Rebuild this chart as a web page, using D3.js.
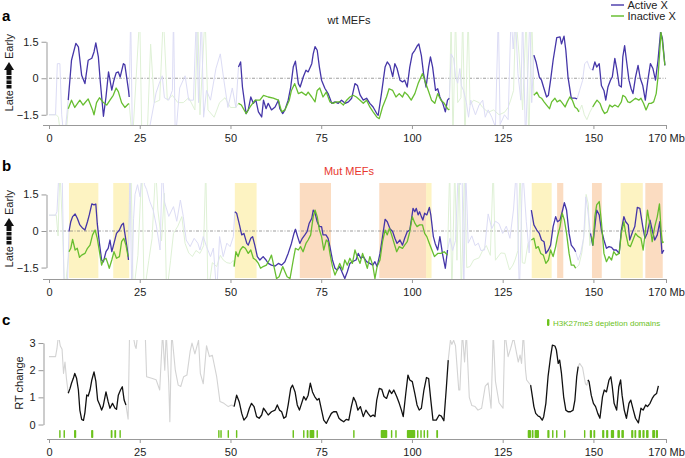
<!DOCTYPE html>
<html><head><meta charset="utf-8">
<script src="https://cdn.jsdelivr.net/npm/d3@7"></script>
<style>body{margin:0;background:#fff}svg{display:block;font-family:"Liberation Sans",Arial,Helvetica,sans-serif}</style>
</head><body>
<script>
// ---------------- DATA ----------------
const xTicks = [0,25,50,75,100,125,150,170];
const rtYTicks = [-1.5,0,1.5];
const changeYTicks = [0,1,2,3];
const seriesNames = ["Active X","Inactive X"];

// panel a (wt MEFs) – solid segments
const wtActive = [
 [[5.3,-0.9],[6.2,0.74],[7.4,1.43],[8.1,1.29],[9.0,0.12],[9.9,-0.22],[10.8,0.74],[11.8,0.82],[12.4,1.08],[12.9,1.45],[13.6,0.88],[14.1,-0.08],[15.0,-1.56],[15.7,-0.77],[16.4,0.26],[17.3,-0.49],[17.9,-0.08],[18.5,0.22],[19.1,0.26],[19.6,0.05],[20.5,0.6],[20.9,0.55],[21.9,-0.49],[22.1,-0.77]],
 [[52.2,0.46],[52.8,0.67],[53.3,-0.36],[54.3,-1.45],[54.9,-1.3],[55.6,-0.77],[56.3,-1.03],[57.0,-0.9],[57.7,-1.38],[58.6,-1.59],[59.1,-0.9],[59.8,-1.25],[60.4,-1.03],[61.3,-1.3],[62.3,-1.18],[63.2,-0.9],[63.6,-1.25],[64.4,-1.45],[65.0,-1.3],[65.9,-0.9],[66.6,-0.36],[67.3,0.46],[67.9,0.7],[68.7,-0.22],[69.2,-0.36],[70.1,0.07],[70.8,0.33],[71.4,0.26],[72.4,0.6],[72.8,1.0],[73.3,1.3],[73.9,1.15],[74.5,0.46],[75.1,-0.08],[76.0,-0.41],[76.9,-0.63],[77.9,-1.03],[78.8,-0.97],[79.7,-1.03],[80.6,-0.9],[81.6,-1.03],[82.5,-0.97],[83.4,-0.82],[84.3,-0.22],[85.0,-0.3],[85.7,-0.68],[86.6,-0.9],[87.5,-0.82],[88.4,-1.03],[89.3,-1.18],[90.3,-1.45],[90.7,-1.52],[91.6,-0.63],[92.6,0.46],[93.2,0.67],[93.9,0.53],[94.7,0.07],[95.3,0.6],[95.9,0.4],[96.7,-0.08],[97.4,-0.15],[98.0,-0.08],[98.7,-0.36],[99.4,0.46],[100.1,1.0],[100.8,1.15],[101.5,1.34],[101.9,1.41],[102.6,0.93],[103.2,0.19],[103.9,-0.36],[104.6,0.46],[105.1,0.88],[105.7,0.46],[106.5,-0.5],[107.1,-0.43],[107.7,-0.77],[108.5,-1.03],[109.2,-1.38],[109.8,-0.9],[110.3,-0.82]],
 [[133.6,0.95],[134.2,0.67],[135.1,0.05],[135.7,-0.08],[136.4,-0.43],[137.1,-0.77],[137.6,-0.7],[138.2,-0.08],[138.9,0.74],[139.9,1.67],[140.8,1.7],[141.2,1.41],[141.9,1.73],[142.4,1.15],[143.0,0.05],[143.9,-0.82],[144.9,-0.82],[145.5,-0.85]],
 [[149.8,0.33],[150.4,0.67],[150.9,0.46],[151.6,0.6],[152.2,-0.3],[152.9,-0.5],[153.4,-0.9],[154.0,-0.36],[154.7,-0.08],[155.2,0.05],[155.9,0.82],[156.5,0.33],[157.1,-0.3],[157.7,-0.36],[158.1,0.88],[158.6,1.34],[159.1,0.74],[159.8,-0.08],[160.4,-0.43],[160.9,-0.63],[161.6,0.05],[162.3,0.53],[162.9,0.0],[163.6,-0.3],[164.3,-0.9],[165.0,-0.08],[165.7,0.6],[166.4,0.4],[167.1,-0.08],[167.8,0.74],[168.5,1.9],[169.0,1.65],[169.7,0.53]]
];
const wtInactive = [
 [[5.3,-1.25],[6.2,-0.9],[7.1,-1.2],[8.5,-0.9],[9.4,-1.1],[10.8,-0.85],[12.0,-1.3],[12.4,-1.5],[13.1,-1.0],[13.9,-0.8],[15.0,-1.0],[15.9,-1.1],[16.8,-0.9],[17.7,-0.7],[18.5,-0.4],[19.1,-0.55],[20.0,-1.0],[20.9,-1.2],[21.9,-1.05],[22.1,-1.05]],
 [[52.2,-1.03],[53.0,-1.1],[54.3,-1.45],[55.4,-1.18],[56.8,-0.9],[58.1,-0.9],[59.1,-0.7],[60.4,-0.77],[61.8,-0.82],[63.2,-0.9],[64.1,-1.38],[65.0,-1.3],[66.2,-0.9],[66.8,-0.5],[67.7,-0.22],[68.7,-0.63],[69.6,-0.57],[70.8,-0.7],[71.4,-0.57],[72.4,-0.77],[73.3,-0.97],[73.9,-0.5],[74.6,-0.4],[75.5,-0.77],[76.4,-0.57],[77.4,-0.97],[78.3,-1.03],[79.2,-0.97],[80.1,-0.97],[81.1,-1.1],[82.0,-0.9],[82.9,-0.77],[83.8,-0.7],[84.7,-0.77],[85.7,-0.9],[86.6,-1.03],[87.5,-0.9],[88.4,-1.18],[89.3,-1.38],[90.3,-1.59],[91.0,-1.66],[91.9,-1.18],[93.0,-0.77],[93.7,-0.43],[94.7,-0.5],[95.6,-0.77],[96.5,-0.63],[97.4,-0.77],[98.0,-0.57],[98.9,-0.7],[99.8,-0.9],[100.8,-0.63],[101.7,-0.22],[102.9,0.19],[103.5,-0.08],[104.5,-0.5],[105.4,-0.9],[106.3,-1.03],[107.1,-0.63],[108.0,-0.9],[108.9,-1.03],[109.8,-1.25],[110.3,-1.3]],
 [[133.6,-0.7],[134.4,-0.57],[135.1,-0.77],[135.7,-0.82],[136.4,-0.97],[137.1,-1.1],[137.9,-1.25],[138.5,-0.97],[139.4,-0.82],[140.0,-0.97],[140.8,-0.9],[141.5,-1.03],[142.2,-1.18],[142.8,-0.97],[143.5,-0.77],[144.2,-0.9],[144.9,-1.18],[145.5,-1.25],[146.0,-1.38]],
 [[149.8,-1.18],[150.4,-1.03],[151.0,-0.9],[151.8,-1.03],[152.5,-1.3],[153.1,-1.45],[153.8,-1.38],[154.5,-1.1],[155.2,-1.18],[155.9,-1.1],[156.8,-1.18],[157.7,-0.97],[158.1,-0.7],[158.8,-0.77],[159.5,-0.97],[160.1,-1.0],[160.9,-0.9],[161.6,-0.82],[162.5,-0.9],[163.1,-0.82],[163.8,-1.03],[164.5,-1.3],[165.3,-1.03],[165.9,-1.03],[166.6,-0.97],[167.3,-0.63],[167.8,0.05],[168.3,1.15],[168.6,1.9],[169.0,1.51],[169.7,0.53]]
];
// panel a – unreliable (faded) stretches
const wtActiveBg = [
 [[0,-1.5],[1.8,-1.5],[2.3,0.6],[3.0,0.6],[3.5,-1.5],[4.2,-2.6],[5.3,-0.9]],
 [[22.1,-0.77],[22.5,2.6],[23.0,-2.6],[26.5,-2.6],[27.5,-2.2],[29.5,-0.6],[30.4,-0.2],[31.2,0.1],[31.8,-0.8],[33.0,-0.9],[34.0,-0.5],[34.3,2.6],[34.8,-2.6],[36.0,-0.4],[37.5,0.1],[38.5,-0.9],[39.8,-0.9],[40.6,2.6],[41.2,-1.0],[42.0,2.6],[42.6,-1.6],[43.4,-0.5],[44.5,-0.9],[46.0,0.4],[47.2,1.0],[48.2,-0.1],[49.3,-1.2],[50.5,-0.4],[51.5,-1.2],[52.2,0.46]],
 [[110.3,-0.82],[110.8,1.0],[111.5,0.8],[112.0,0.1],[112.6,-0.2],[113.2,0.4],[113.6,-0.3],[114.2,-0.5],[115.0,-1.0],[115.6,-1.6],[116.2,-0.9],[116.8,-1.2],[117.5,-1.5],[118.5,-1.1],[119.5,-0.9],[120.2,-1.6],[121.0,-1.3],[122.0,-1.6],[123.0,-2.0],[123.8,2.6],[124.3,-1.9],[125.5,-1.5],[126.5,-1.7],[127.3,2.6],[127.9,1.2],[128.5,2.6],[129.2,0.2],[130.0,-0.9],[130.5,2.6],[131.3,-2.6],[132.5,2.6],[133.0,-1.0],[133.6,0.95]],
 [[145.5,-0.85],[146.2,-0.5],[147.0,-0.1],[147.6,0.6],[148.3,0.7],[149.0,0.4],[149.8,0.33]]
];
const wtInactiveBg = [
 [[0,-1.5],[2.0,-1.5],[2.6,-1.6],[3.4,-2.6],[4.5,-2.6],[5.3,-1.25]],
 [[22.1,-1.05],[23.0,-2.6],[25.0,2.6],[25.6,-2.6],[27.0,-2.6],[28.0,1.4],[29.0,-1.0],[30.5,-0.9],[31.5,2.6],[32.6,-0.9],[34.0,-0.7],[35.5,-1.0],[37.0,-1.0],[38.5,-0.8],[40.2,-1.3],[41.0,2.6],[41.6,-1.5],[43.0,2.6],[43.8,-1.3],[45.5,-1.6],[47.0,-1.0],[48.5,-0.8],[50.0,-1.2],[51.5,-1.2],[52.2,-1.03]],
 [[110.3,-1.3],[110.8,2.6],[111.3,-2.6],[112.0,2.6],[112.6,-1.0],[113.5,-0.8],[114.0,2.6],[114.6,-2.6],[115.5,2.6],[116.0,-1.1],[117.0,-0.9],[118.5,-1.0],[119.5,-1.2],[121.0,-1.4],[122.5,-1.3],[124.0,-1.5],[125.5,-1.4],[126.5,-1.2],[127.2,-0.9],[128.0,-0.5],[128.6,2.6],[129.5,1.0],[130.5,-1.3],[131.5,2.6],[132.2,-2.6],[133.0,2.6],[133.6,-0.7]],
 [[146.0,-1.38],[146.8,-1.1],[147.5,-1.5],[148.2,-1.7],[149.0,-1.4],[149.8,-1.18]]
];

// panel b (Mut MEFs)
const mutActive = [
 [[5.5,-0.03],[6.0,0.38],[6.5,0.59],[7.2,0.7],[7.8,0.52],[8.5,0.25],[9.3,0.11],[9.9,0.04],[10.6,0.38],[11.1,0.66],[11.8,1.11],[12.4,1.07],[12.9,1.11],[13.3,0.3],[13.9,-0.51],[14.5,-1.19],[15.0,-1.26],[15.7,-0.85],[16.3,-0.71],[16.8,-0.37],[17.3,-0.85],[17.9,-0.51],[18.6,-0.1],[19.4,0.04],[20.0,0.25],[20.5,0.32],[20.9,-0.1],[21.6,-0.78],[21.9,-1.19]],
 [[51.2,0.79],[51.7,0.73],[52.4,0.3],[53.1,-0.16],[53.7,-0.1],[54.5,-0.51],[54.9,-0.58],[55.6,-0.3],[56.1,-0.23],[56.7,-0.58],[57.4,-1.05],[58.1,-1.19],[59.0,-1.05],[59.8,-1.19],[60.4,-1.33],[61.3,-1.4],[62.3,-1.44],[63.2,-1.33],[64.1,-1.4],[65.0,-1.26],[65.9,-0.92],[66.8,-0.51],[67.5,-0.1],[67.9,0.07],[68.5,-0.23],[69.1,-0.51],[69.8,-0.3],[70.5,-0.16],[71.1,-0.03],[71.7,0.32],[72.4,0.52],[72.8,0.86],[73.3,0.73],[73.9,0.38],[74.5,0.18],[75.1,0.18],[75.5,-0.16],[76.3,-0.16],[76.9,-0.3],[77.4,-0.64],[78.1,-1.19],[78.8,-1.53],[79.4,-1.6],[80.1,-1.46],[80.9,-1.74],[81.5,-1.95],[82.2,-1.67],[82.9,-1.33],[83.6,-1.26],[84.6,-1.19],[85.2,-0.92],[85.9,-1.12],[86.6,-1.05],[87.5,-1.26],[88.4,-1.33],[89.2,-1.4],[89.8,-1.26],[90.4,-1.46],[91.2,-0.92],[91.9,-0.23],[92.6,0.48],[93.2,0.38],[93.9,0.11],[94.7,-0.03],[95.3,-0.3],[95.9,-0.51],[96.7,-0.37],[97.4,-0.58],[98.0,-0.3],[98.7,-0.03],[99.4,0.04],[99.9,0.52],[100.3,0.93],[100.8,0.79],[101.2,0.93],[101.7,0.66],[102.1,0.79],[102.6,0.59],[103.0,0.45],[103.5,0.73],[104.1,0.66],[104.8,0.97],[105.2,0.66],[105.9,-0.23],[106.4,-0.51],[107.1,-0.78],[107.7,-0.23],[108.4,-0.92],[109.2,-1.53],[109.8,-0.78]],
 [[132.9,0.86],[133.6,0.25],[134.4,0.04],[135.1,-0.1],[135.7,-0.37],[136.4,-0.44],[136.9,-0.92],[137.6,-0.78],[138.2,-0.58],[138.9,0.18],[139.6,0.59],[140.1,0.38],[140.8,0.45],[141.4,0.79],[142.0,1.16],[142.6,0.86],[143.3,-0.1],[143.9,-0.58],[144.6,-0.71],[145.1,-0.85]],
 [[149.2,-0.1],[149.8,-0.58],[150.4,0.18],[150.9,0.86],[151.6,0.66],[152.2,0.04],[152.9,-0.37],[153.6,-0.71],[154.3,-0.64],[155.0,-0.67],[155.6,-0.78],[156.3,-0.78],[157.1,-0.92],[157.7,0.04],[158.4,0.59],[158.9,0.38],[159.6,0.25],[160.0,-0.37],[160.8,-0.03],[161.4,0.18],[162.1,0.97],[162.8,0.93],[163.6,0.18],[164.2,-0.3],[164.8,-0.1],[165.6,0.45],[166.3,-0.03],[166.9,-0.37],[167.6,-0.16],[168.3,0.38],[168.9,-0.92],[169.4,-0.78]]
];
const mutInactive = [
 [[5.5,-0.85],[6.0,-0.71],[6.5,-0.34],[7.2,-0.78],[7.8,-0.71],[8.4,-1.08],[9.0,-0.99],[9.9,-0.92],[10.6,-0.71],[11.3,-0.58],[12.0,-0.16],[12.7,0.04],[13.3,-0.3],[13.9,-0.85],[14.5,-1.4],[15.0,-1.19],[15.7,-1.12],[16.2,-1.33],[16.6,-1.53],[17.3,-1.19],[17.9,-0.85],[18.6,-1.12],[19.4,-1.05],[20.0,-0.44],[20.6,-0.3],[21.2,-0.58],[21.8,-1.05]],
 [[51.0,-1.46],[51.5,-0.85],[52.1,-1.05],[52.7,-0.78],[53.4,-0.64],[54.1,-0.71],[54.9,-0.92],[55.6,-0.78],[56.3,-1.12],[57.0,-1.19],[57.7,-1.33],[58.3,-1.53],[59.0,-1.46],[59.9,-1.4],[60.7,-1.19],[61.3,-0.99],[61.9,-1.4],[62.7,-1.95],[63.4,-1.88],[64.4,-1.46],[65.0,-1.67],[65.6,-1.88],[66.4,-1.95],[67.3,-1.19],[67.9,-0.71],[68.7,-0.78],[69.3,-0.64],[70.0,-0.85],[70.8,-0.51],[71.4,-0.37],[72.1,-0.16],[72.8,0.59],[73.3,0.86],[73.9,0.59],[74.5,0.04],[75.1,-0.23],[75.7,-0.78],[76.4,-0.37],[76.9,-0.44],[77.4,-0.92],[78.1,-1.46],[78.8,-1.81],[79.4,-1.6],[80.1,-1.33],[80.9,-1.6],[81.5,-1.19],[82.2,-1.4],[82.9,-1.12],[83.6,-1.33],[84.3,-0.78],[84.9,-1.05],[85.7,-1.33],[86.4,-0.92],[87.0,-1.19],[87.7,-1.53],[88.4,-1.05],[89.2,-1.4],[89.8,-1.95],[90.4,-1.46],[91.2,-1.19],[91.9,-0.44],[92.6,0.04],[93.2,-0.16],[93.8,0.11],[94.4,-0.16],[95.1,-0.51],[95.8,-0.85],[96.5,-0.64],[97.4,-0.71],[98.0,-0.58],[98.7,-0.44],[99.4,-0.03],[100.1,0.59],[100.8,0.32],[101.4,0.18],[102.1,0.25],[102.9,0.25],[103.5,-0.1],[104.1,-0.23],[104.8,-0.51],[105.5,-0.78],[106.2,-1.05],[107.1,-0.92],[108.0,-0.92],[108.9,-0.85],[109.8,-0.99]],
 [[132.9,-0.37],[133.6,-0.3],[134.2,-0.71],[134.8,-0.64],[135.5,-0.92],[136.2,-0.99],[136.9,-1.33],[137.6,-1.19],[138.2,-0.78],[138.9,-1.05],[139.6,-0.64],[140.1,-0.23],[140.8,0.18],[141.4,0.73],[142.0,0.45],[142.6,-0.1],[143.3,-0.92],[143.9,-1.4],[144.6,-1.4],[145.1,-1.53]],
 [[149.5,-0.23],[149.9,-0.58],[150.4,0.59],[150.9,1.07],[151.6,1.21],[152.2,0.38],[152.9,-0.92],[153.6,-1.26],[154.3,-1.05],[155.0,-1.19],[155.6,-0.85],[156.3,-0.99],[157.1,-0.92],[157.7,-0.1],[158.4,0.38],[158.9,-0.1],[159.6,-0.58],[160.2,-0.64],[160.9,-0.37],[161.6,-0.1],[162.2,-0.21],[163.1,-0.3],[163.7,-0.78],[164.2,-0.16],[164.9,0.86],[165.5,0.32],[166.2,-0.44],[166.9,0.18],[167.6,0.59],[168.2,1.11],[168.7,-0.1],[169.0,-0.48],[169.4,-0.44]]
];
const mutActiveBg = [
 [[0,0.65],[1.8,0.65],[2.2,0.8],[2.8,2.6],[3.6,2.6],[4.2,-2.6],[5.0,-2.6],[5.5,-0.03]],
 [[21.9,-1.19],[22.3,2.6],[22.8,-2.6],[23.3,0.5],[23.7,1.5],[24.4,1.9],[25.1,1.4],[25.8,2.6],[26.3,1.9],[26.9,1.7],[27.8,1.2],[28.7,0.86],[29.6,0.2],[30.6,-0.78],[31.2,2.6],[31.8,1.2],[33.0,0.6],[34.3,1.0],[35.2,0.4],[36.2,1.27],[37.0,0.6],[37.8,-0.37],[38.9,-0.64],[40.0,-0.3],[41.0,-0.5],[41.6,-0.78],[42.5,-0.23],[43.4,-0.64],[44.5,-1.05],[45.3,-0.7],[46.2,-2.6],[47.0,-0.23],[48.0,-1.05],[49.0,-0.5],[49.9,-0.64],[50.8,-0.23],[51.2,0.79]],
 [[109.8,-0.78],[110.5,-0.3],[111.2,-0.8],[112.0,-0.4],[112.8,2.6],[113.3,1.9],[113.8,2.6],[114.3,-2.6],[114.8,2.6],[115.5,-0.5],[116.5,-0.2],[117.4,-0.6],[118.3,-0.5],[119.0,-0.8],[120.0,-0.78],[121.0,0.7],[122.0,0.1],[123.0,0.4],[124.0,0.3],[125.0,-0.1],[126.0,0.2],[127.0,-0.3],[128.0,0.9],[128.8,2.6],[129.6,-2.6],[130.5,2.6],[131.5,0.4],[132.3,-0.9],[132.9,0.86]],
 [[145.1,-0.85],[145.8,-1.2],[146.5,-0.9],[147.3,-0.3],[147.9,1.4],[148.4,0.9],[149.2,-0.1]]
];
const mutInactiveBg = [
 [[0,0.65],[2.0,0.65],[2.5,-0.2],[3.0,2.6],[3.8,-0.2],[4.3,-2.6],[5.5,-0.85]],
 [[21.8,-1.05],[22.6,2.6],[23.2,-2.6],[24.5,-1.0],[25.6,2.6],[26.2,-2.6],[27.5,-1.2],[28.4,-0.3],[29.4,2.6],[30.0,0.86],[31.0,-0.4],[31.8,1.55],[32.4,-2.6],[33.5,-1.2],[34.3,-0.1],[35.5,0.2],[36.6,0.59],[37.5,-0.51],[38.5,-0.9],[39.5,-1.05],[40.5,-0.8],[41.6,-0.92],[42.6,-0.6],[43.2,2.6],[43.8,-2.6],[45.0,-1.3],[46.2,-1.46],[47.2,-1.0],[48.0,-1.19],[49.0,-1.3],[50.0,-1.33],[50.8,-1.2],[51.0,-1.46]],
 [[109.8,-0.99],[110.4,2.6],[111.0,-2.6],[111.8,2.6],[112.4,-1.2],[113.0,2.6],[113.6,-2.6],[114.5,2.6],[115.1,-1.5],[116.0,-1.46],[117.0,-1.19],[118.5,-1.1],[119.5,-0.8],[120.5,-0.6],[121.6,-1.0],[122.4,2.6],[123.0,-1.2],[124.5,-0.9],[125.6,-0.92],[126.9,-1.6],[127.8,-1.4],[128.4,-1.19],[129.2,-0.8],[129.8,2.6],[130.4,-1.3],[131.1,-1.33],[132.0,-0.5],[132.9,-0.37]],
 [[145.1,-1.53],[146.0,-1.4],[146.8,-0.9],[147.6,0.1],[148.0,1.5],[148.6,1.1],[149.0,-0.6],[149.5,-0.23]]
];
// highlighted domains in panel b [start, end] in Mb
const yellowDomains = [[5.5,13.6],[17.7,22.1],[51.2,57.2],[103.9,105.4],[133.0,138.5],[157.5,163.6]];
const orangeDomains = [[69.1,77.7],[91.0,103.9],[140.0,141.7],[149.6,152.3],[164.3,169.1]];

// panel c (RT change)
const rtChange = [
 [[5.3,1.15],[5.8,1.33],[6.2,1.52],[6.7,1.7],[7.1,1.88],[7.6,1.7],[8.1,1.27],[8.5,0.53],[9.0,0.19],[9.5,0.15],[9.9,0.44],[10.4,1.09],[10.8,1.05],[11.3,1.27],[11.8,1.64],[12.4,1.94],[12.9,1.6],[13.4,0.9],[14.0,0.72],[14.5,0.53],[14.9,0.66],[15.7,1.2],[16.3,0.84],[16.8,0.6],[17.5,0.78],[18.2,0.6],[18.6,0.56],[19.1,1.08],[19.7,1.27],[20.2,1.39],[20.7,0.9],[21.2,0.72]],
 [[51.0,0.66],[51.7,1.08],[52.4,0.84],[53.1,0.41],[53.7,0.16],[54.5,0.29],[55.2,0.6],[55.8,0.78],[56.5,0.66],[57.2,0.29],[57.9,0.23],[58.6,0.35],[59.1,0.6],[59.8,0.47],[60.4,0.35],[61.3,0.47],[62.3,0.53],[62.9,0.72],[63.5,0.53],[64.1,0.47],[64.7,0.23],[65.3,0.29],[65.9,0.72],[66.6,1.33],[67.1,1.45],[67.8,1.2],[68.4,0.72],[69.0,0.53],[69.6,0.78],[70.2,1.03],[70.8,0.9],[71.4,1.08],[72.0,1.52],[72.6,1.2],[73.2,1.03],[73.9,0.9],[74.4,0.96],[75.1,0.53],[75.7,0.16],[76.4,0.04],[77.1,0.23],[77.8,0.41],[78.4,0.47],[79.2,0.47],[79.9,0.23],[80.5,0.16],[81.2,0.1],[81.9,0.19],[82.6,0.16],[83.3,0.66],[83.9,1.0],[84.5,0.84],[85.1,0.53],[85.8,0.66],[86.6,0.29],[87.3,0.53],[87.9,0.41],[88.6,0.29],[89.3,0.35],[89.8,0.29],[90.3,0.9],[91.0,1.33],[91.7,1.29],[92.3,1.03],[93.0,0.96],[93.8,1.27],[94.4,1.14],[95.0,1.27],[95.8,1.03],[96.5,0.78],[97.1,0.53],[97.6,0.29],[98.3,1.14],[98.9,1.82],[99.4,1.64],[100.1,1.58],[100.8,1.14],[101.4,0.72],[102.0,0.53],[102.6,0.6],[103.3,1.27],[104.0,1.73],[104.6,1.69],[105.2,0.9],[105.8,0.16],[106.7,0.16],[107.5,0.35],[108.1,0.31],[108.8,0.14],[109.5,1.39],[110.0,2.37]],
 [[132.7,1.45],[133.2,1.02],[133.6,0.66],[134.1,0.41],[134.8,0.31],[135.2,0.29],[135.9,0.16],[136.3,0.29],[136.9,0.78],[137.5,1.76],[138.2,2.5],[138.7,2.92],[139.4,2.89],[139.8,2.74],[140.3,2.25],[140.7,2.37],[141.2,1.88],[141.8,1.02],[142.4,0.53],[143.0,0.47],[143.7,0.47],[144.4,0.53],[144.9,0.9],[145.4,1.76],[145.8,2.13]],
 [[148.5,1.64],[148.8,1.58],[149.4,1.08],[150.0,0.78],[150.6,0.66],[151.2,0.41],[151.8,0.23],[152.5,1.02],[153.0,1.27],[153.6,1.2],[154.3,1.64],[154.8,1.76],[155.2,1.39],[155.7,0.78],[156.4,0.53],[157.0,1.39],[157.5,1.64],[157.9,1.08],[158.5,0.53],[159.1,0.23],[159.8,0.78],[160.3,0.9],[161.0,0.53],[161.6,0.23],[162.4,0.06],[163.1,0.6],[163.7,0.53],[164.4,0.72],[164.9,0.66],[165.6,0.78],[166.2,0.96],[166.8,1.08],[167.4,1.14],[167.9,1.42]]
];
const rtChangeBg = [
 [[0,2.5],[1.8,2.5],[2.2,2.8],[2.6,3.3],[3.1,2.9],[3.6,2.77],[4.0,1.88],[4.4,2.3],[4.8,1.7],[5.3,1.15]],
 [[21.2,0.72],[21.8,0.2],[22.2,3.4],[23.0,3.4],[23.7,2.9],[24.0,2.8],[24.5,3.4],[26.5,3.4],[26.9,1.76],[28.3,1.7],[29.5,1.65],[30.5,1.27],[31.3,3.4],[31.9,2.0],[32.3,3.4],[33.0,1.5],[33.3,0.1],[33.8,3.4],[34.8,2.0],[35.6,1.45],[36.3,1.4],[37.1,1.76],[38.0,1.82],[38.9,2.7],[39.4,3.0],[40.2,2.6],[41.2,3.1],[41.7,1.88],[42.5,1.5],[43.4,2.9],[44.2,2.5],[45.0,2.55],[46.2,1.76],[47.1,0.85],[48.2,0.78],[49.4,0.66],[50.3,0.72],[51.0,0.66]],
 [[110.0,2.37],[110.6,3.1],[111.0,2.95],[111.5,3.1],[112.0,2.9],[112.9,1.27],[113.2,1.27],[113.9,3.4],[114.5,2.3],[115.0,3.4],[115.8,1.0],[116.5,0.7],[117.4,0.66],[118.2,0.53],[119.2,0.6],[120.2,1.41],[121.0,1.53],[121.8,0.6],[122.4,3.4],[123.0,1.6],[124.0,0.8],[125.1,0.6],[125.6,3.4],[126.5,2.5],[127.2,2.8],[128.0,3.2],[129.3,2.3],[129.8,2.56],[130.2,2.25],[130.7,3.4],[131.3,2.0],[131.6,1.64],[132.7,1.45]],
 [[145.8,2.13],[146.2,2.25],[147.0,2.1],[147.8,1.5],[148.2,1.45],[148.5,1.64]]
];
// H3K27me3 depletion domains [start, end] Mb
const depletionDomains = [[2.8,3.2],[4.0,4.4],[6.9,7.5],[11.6,12.2],[17.0,17.5],[18.0,18.5],[19.4,19.8],[46.6,47.0],[47.2,47.6],[49.2,49.6],[51.5,51.9],[67.1,67.5],[70.0,70.4],[71.0,71.5],[71.8,73.1],[73.7,74.1],[83.8,84.2],[91.4,93.2],[94.2,94.6],[95.4,95.8],[98.6,100.9],[101.4,101.8],[102.3,102.7],[103.2,103.6],[104.1,104.5],[106.7,107.2],[131.9,132.8],[133.0,133.5],[133.8,135.0],[137.3,137.9],[138.6,139.0],[139.7,140.1],[141.9,142.3],[147.4,147.7],[149.0,149.6],[150.0,150.5],[152.4,153.0],[153.5,154.1],[154.8,155.7],[156.6,157.3],[157.7,158.4],[160.4,161.0],[161.3,161.8],[162.4,163.1],[163.5,164.1],[164.5,165.2],[166.2,167.0],[167.2,167.8]];

// ---------------- DRAW ----------------
const W = 685, H = 458;
const svg = d3.select("body").append("svg").attr("width", W).attr("height", H);
const FONT = "'Liberation Sans', Arial, Helvetica, sans-serif";
const C = {blue:"#4536a8", green:"#5fba26", blueBg:"#dcdcf5", greenBg:"#dff1d6", gray:"#d3d3d3",
  axis:"#999", text:"#222", yellow:"#fdf3c2", orange:"#fbdcc1", dom:"#6cc21c", red:"#e8372e"};

const x = d3.scaleLinear().domain([0,170]).range([49,666]);

const panels = [
  {id:"a", y:d3.scaleLinear().domain([-1.92,1.9]).range([125,32]), top:32, axisY:125},
  {id:"b", y:d3.scaleLinear().domain([-1.97,1.97]).range([279,183]), top:183, axisY:279},
  {id:"c", y:d3.scaleLinear().domain([-0.5,3.1]).range([438.1,340.3]), top:340, axisY:439}
];

const defs = svg.append("defs");
panels.forEach(p => {
  defs.append("clipPath").attr("id","clip-"+p.id).append("rect")
    .attr("x", x(0)-1).attr("y", p.top).attr("width", x(170)-x(0)+2).attr("height", p.axisY - p.top - (p.id==="c"?9:0));
});

function drawLines(g, p, segs, color, width, opacity) {
  const line = d3.line().x(d => x(d[0])).y(d => p.y(d[1]));
  g.selectAll(null).data(segs).join("path")
    .attr("d", line).attr("fill","none").attr("stroke", color)
    .attr("stroke-width", width).attr("stroke-linejoin","round").attr("opacity", opacity);
}

function xAxis(p, ext) {
  const g = svg.append("g").attr("transform", `translate(0,${p.axisY})`)
    .call(d3.axisBottom(x).tickValues(xTicks).tickSize(4).tickSizeOuter(0).tickPadding(5)
      .tickFormat(d => d === 170 ? "170 Mb" : d));
  g.select(".domain").attr("stroke", C.axis).attr("d", `M${x(0)-ext},0.5H${x(170)+1}`);
  g.selectAll(".tick line").attr("stroke", C.axis);
  g.selectAll("text").attr("font-size", 11).attr("font-family", FONT).attr("fill", C.text);
}
function yAxis(p, ticks, x0, fmt) {
  const s = p.y.copy().domain([ticks[0], ticks[ticks.length-1]]).range([p.y(ticks[0]), p.y(ticks[ticks.length-1])]);
  const g = svg.append("g").attr("transform", `translate(${x0},0)`)
    .call(d3.axisLeft(s).tickValues(ticks).tickSize(5).tickSizeOuter(0).tickPadding(3).tickFormat(fmt));
  g.select(".domain").attr("stroke", C.axis);
  g.selectAll(".tick line").attr("stroke", C.axis);
  g.selectAll("text").attr("font-size", 11).attr("font-family", FONT).attr("fill", C.text);
}
const rtFmt = d => d === 0 ? "0" : d3.format(".1f")(d);

function rtTitle(cx, cy) {
  const g = svg.append("g").attr("transform", `translate(${cx},${cy}) rotate(-90)`);
  g.append("text").attr("x", -15).attr("y", 0).attr("text-anchor","end")
    .attr("font-size", 11).attr("font-family", FONT).attr("fill", C.text).text("Late");
  [-13.5,-9,-4.5].forEach(v => g.append("rect").attr("x", v).attr("y", -6.5).attr("width", 3.6).attr("height", 5).attr("fill","#111"));
  g.append("rect").attr("x", 0).attr("y", -6.5).attr("width", 5).attr("height", 5).attr("fill","#111");
  g.append("path").attr("d", "M5,-9 L13,-4 L5,1 Z").attr("fill","#111");
  g.append("text").attr("x", 16).attr("y", 0).attr("text-anchor","start")
    .attr("font-size", 11).attr("font-family", FONT).attr("fill", C.text).text("Early");
}
function panelLabel(t, px, py) {
  svg.append("text").attr("x", px).attr("y", py).attr("font-size", 15).attr("font-weight","bold")
    .attr("font-family", FONT).attr("fill","#000").text(t);
}

// ---- Panel a ----
{
  const p = panels[0];
  const g = svg.append("g").attr("clip-path","url(#clip-a)");
  g.append("line").attr("x1", x(0)).attr("x2", x(170)).attr("y1", p.y(0)).attr("y2", p.y(0))
    .attr("stroke","#777").attr("stroke-width",0.7).attr("stroke-dasharray","3,1.5,1,1.5");
  drawLines(g, p, wtInactiveBg, C.greenBg, 1, 1);
  drawLines(g, p, wtActiveBg, C.blueBg, 1, 1);
  drawLines(g, p, wtActive, C.blue, 1.3, 1);
  drawLines(g, p, wtInactive, C.green, 1.3, 0.95);
  xAxis(p, 6);
  yAxis(p, rtYTicks, 46.5, rtFmt);
  rtTitle(13, 75);
  panelLabel("a", 2, 21);
  svg.append("text").attr("x", 349).attr("y", 24).attr("text-anchor","middle").attr("font-size", 11)
    .attr("font-family", FONT).attr("fill", C.text).text("wt MEFs");
  // legend
  const lg = svg.append("g");
  [[seriesNames[0], C.blue, 5],[seriesNames[1], C.green, 16]].forEach(([t,c,yy]) => {
    lg.append("line").attr("x1", 611).attr("x2", 624).attr("y1", yy).attr("y2", yy).attr("stroke", c).attr("stroke-width", 1.4);
    lg.append("text").attr("x", 627.5).attr("y", yy + 4).attr("font-size", 11).attr("font-family", FONT)
      .attr("fill", C.text).text(t);
  });
}

// ---- Panel b ----
{
  const p = panels[1];
  const hb = svg.append("g");
  hb.selectAll(null).data(yellowDomains).join("rect")
    .attr("x", d => x(d[0])).attr("width", d => x(d[1]) - x(d[0]))
    .attr("y", p.top).attr("height", p.axisY - 1 - p.top).attr("fill", C.yellow);
  hb.selectAll(null).data(orangeDomains).join("rect")
    .attr("x", d => x(d[0])).attr("width", d => x(d[1]) - x(d[0]))
    .attr("y", p.top).attr("height", p.axisY - 1 - p.top).attr("fill", C.orange);
  const g = svg.append("g").attr("clip-path","url(#clip-b)");
  g.append("line").attr("x1", x(0)).attr("x2", x(170)).attr("y1", p.y(0)).attr("y2", p.y(0))
    .attr("stroke","#777").attr("stroke-width",0.7).attr("stroke-dasharray","3,1.5,1,1.5");
  drawLines(g, p, mutInactiveBg, C.greenBg, 1, 1);
  drawLines(g, p, mutActiveBg, C.blueBg, 1, 1);
  drawLines(g, p, mutActive, C.blue, 1.3, 1);
  drawLines(g, p, mutInactive, C.green, 1.3, 0.95);
  xAxis(p, 6);
  yAxis(p, rtYTicks, 46.5, rtFmt);
  rtTitle(13, 231);
  panelLabel("b", 2, 171);
  svg.append("text").attr("x", 349).attr("y", 175).attr("text-anchor","middle").attr("font-size", 11)
    .attr("font-family", FONT).attr("fill", C.red).text("Mut MEFs");
}

// ---- Panel c ----
{
  const p = panels[2];
  const g = svg.append("g").attr("clip-path","url(#clip-c)");
  drawLines(g, p, rtChangeBg, C.gray, 1.1, 1);
  drawLines(g, p, rtChange, "#111", 1.3, 1);
  svg.append("g").selectAll(null).data(depletionDomains).join("rect")
    .attr("x", d => x(d[0])).attr("width", d => Math.max(1.4, x(d[1]) - x(d[0])))
    .attr("y", 430).attr("height", 8).attr("rx", 0.8).attr("fill", C.dom);
  xAxis(p, 2);
  yAxis(p, changeYTicks, 43.5, d => d);
  svg.append("text").attr("transform", "translate(23,383) rotate(-90)").attr("text-anchor","middle")
    .attr("font-size", 11).attr("font-family", FONT).attr("fill", C.text).text("RT change");
  panelLabel("c", 2, 325);
  svg.append("rect").attr("x", 547).attr("y", 319).attr("width", 2.4).attr("height", 7).attr("rx", 1.2).attr("fill", C.dom);
  svg.append("text").attr("x", 553).attr("y", 326).attr("font-size", 8).attr("font-family", FONT)
    .attr("fill", C.dom).text("H3K27me3 depletion domains");
}
</script>
</body></html>
